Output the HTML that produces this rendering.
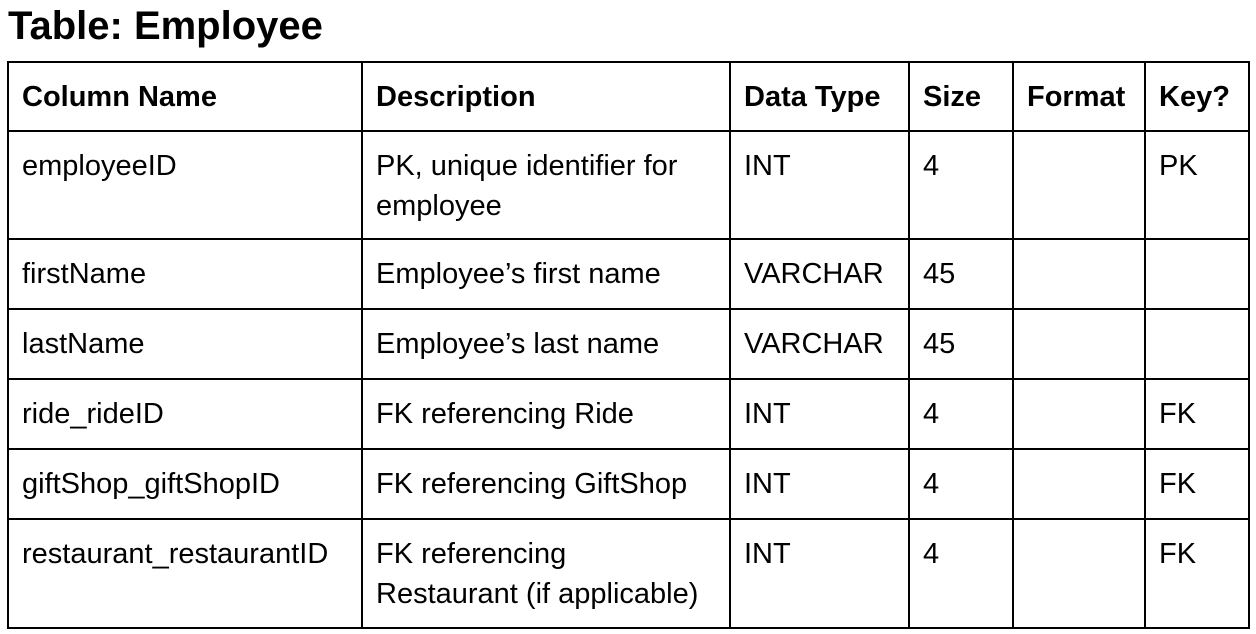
<!DOCTYPE html>
<html><head><style>
body{margin:0;width:1256px;height:634px;background:#fff;font-family:"Liberation Sans",Arial,sans-serif;color:#000;position:relative;overflow:hidden}
.t{position:absolute;left:8px;top:4px;font-size:40px;font-weight:bold;line-height:44px}
table{position:absolute;left:7px;top:61px;border-collapse:collapse;font-size:29px}
td{border:2px solid #000;vertical-align:top;padding:14px 13px 0 13px;line-height:40px;box-sizing:border-box;white-space:nowrap}
tr.h td{font-weight:bold;height:69px}
</style></head><body>
<div class="t">Table: Employee</div>
<table>
<colgroup><col style="width:354px"><col style="width:368px"><col style="width:179px"><col style="width:104px"><col style="width:132px"><col style="width:104px"></colgroup>
<tr class="h"><td>Column Name</td><td>Description</td><td>Data Type</td><td>Size</td><td>Format</td><td>Key?</td></tr>
<tr style="height:108px"><td>employeeID</td><td>PK, unique identifier for<br>employee</td><td>INT</td><td>4</td><td></td><td>PK</td></tr>
<tr style="height:70px"><td>firstName</td><td>Employee’s first name</td><td>VARCHAR</td><td>45</td><td></td><td></td></tr>
<tr style="height:70px"><td>lastName</td><td>Employee’s last name</td><td>VARCHAR</td><td>45</td><td></td><td></td></tr>
<tr style="height:70px"><td>ride_rideID</td><td>FK referencing Ride</td><td>INT</td><td>4</td><td></td><td>FK</td></tr>
<tr style="height:70px"><td>giftShop_giftShopID</td><td>FK referencing GiftShop</td><td>INT</td><td>4</td><td></td><td>FK</td></tr>
<tr style="height:109px"><td>restaurant_restaurantID</td><td>FK referencing<br>Restaurant (if applicable)</td><td>INT</td><td>4</td><td></td><td>FK</td></tr>
</table>
</body></html>
